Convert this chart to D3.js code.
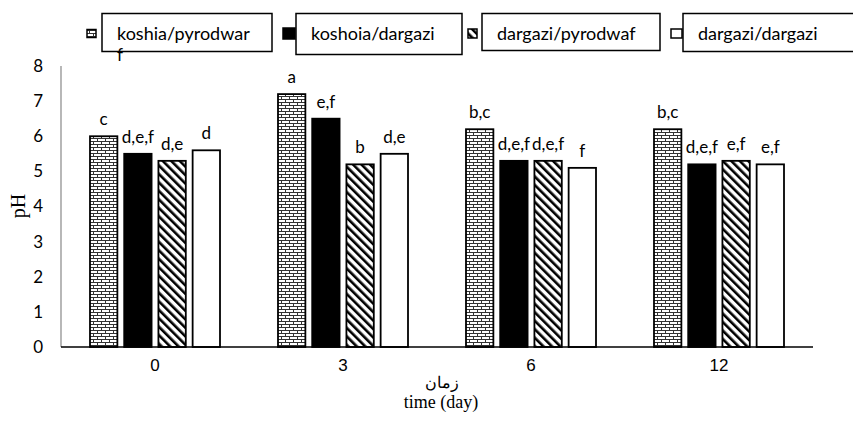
<!DOCTYPE html>
<html>
<head>
<meta charset="utf-8">
<script src="https://cdn.jsdelivr.net/npm/d3@7"></script>
<style>
  html, body { margin: 0; padding: 0; background: #fff; }
  svg { display: block; }
</style>
</head>
<body>
<svg id="chart" width="853" height="423"></svg>
<script>
// ---- data ----
const days = ["0", "3", "6", "12"];
const seriesNames = ["koshia/pyrodwar", "koshoia/dargazi", "dargazi/pyrodwaf", "dargazi/dargazi"];
const koshiaPyrodwar = [6.0, 7.2, 6.2, 6.2];
const koshoiaDargazi = [5.5, 6.5, 5.3, 5.2];
const dargaziPyrodwaf = [5.3, 5.2, 5.3, 5.3];
const dargaziDargazi = [5.6, 5.5, 5.1, 5.2];
const lettersKoshiaPyrodwar = ["c", "a", "b,c", "b,c"];
const lettersKoshoiaDargazi = ["d,e,f", "e,f", "d,e,f", "d,e,f"];
const lettersDargaziPyrodwaf = ["d,e", "b", "d,e,f", "e,f"];
const lettersDargaziDargazi = ["d", "d,e", "f", "e,f"];
const yTicks = [0, 1, 2, 3, 4, 5, 6, 7, 8];

const seriesValues = [koshiaPyrodwar, koshoiaDargazi, dargaziPyrodwaf, dargaziDargazi];
const seriesLetters = [lettersKoshiaPyrodwar, lettersKoshoiaDargazi, lettersDargaziPyrodwaf, lettersDargaziDargazi];

// ---- layout ----
const svg = d3.select("#chart");
const plotLeft = 61, plotRight = 813, plotTop = 66, plotBottom = 347;
const calibri = "Lato, 'Open Sans', sans-serif";

const defs = svg.append("defs");
// brick pattern
const brick = defs.append("pattern").attr("id", "brick")
  .attr("patternUnits", "userSpaceOnUse").attr("width", 8).attr("height", 6);
brick.append("rect").attr("width", 8).attr("height", 6).attr("fill", "#fff");
brick.append("path").attr("d", "M0,0.5H8M0,3.5H8M1.5,0.5V3.5M5.5,3.5V6")
  .attr("stroke", "#333").attr("stroke-width", 1).attr("fill", "none");
// diagonal pattern
const diag = defs.append("pattern").attr("id", "diag")
  .attr("patternUnits", "userSpaceOnUse").attr("width", 6).attr("height", 6)
  .attr("patternTransform", "rotate(-45)");
diag.append("rect").attr("width", 6).attr("height", 6).attr("fill", "#fff");
diag.append("rect").attr("x", 0).attr("y", 0).attr("width", 2.6).attr("height", 6).attr("fill", "#000");

const fills = ["url(#brick)", "#000", "url(#diag)", "#fff"];

const x0 = d3.scaleBand().domain(days).range([plotLeft, plotRight]).padding(0);
const groupWidth = 130;
const x1 = d3.scaleBand().domain(d3.range(seriesNames.length)).range([0, groupWidth]).paddingInner(0.2);
const y = d3.scaleLinear().domain([0, 8]).range([plotBottom, plotTop]);

// bars
seriesValues.forEach((vals, si) => {
  svg.append("g").selectAll("rect")
    .data(vals)
    .join("rect")
    .attr("x", (d, i) => x0(days[i]) + (x0.bandwidth() - groupWidth) / 2 + x1(si))
    .attr("y", d => y(d))
    .attr("width", x1.bandwidth())
    .attr("height", d => y(0) - y(d))
    .attr("fill", fills[si])
    .attr("stroke", "#000")
    .attr("stroke-width", 1.8);
});

// letters
seriesLetters.forEach((lets, si) => {
  svg.append("g").selectAll("text")
    .data(lets)
    .join("text")
    .attr("x", (d, i) => x0(days[i]) + (x0.bandwidth() - groupWidth) / 2 + x1(si) + x1.bandwidth() / 2)
    .attr("y", (d, i) => y(seriesValues[si][i]) - 11)
    .attr("text-anchor", "middle")
    .attr("font-family", calibri)
    .attr("font-size", 17)
    .attr("fill", "#000")
    .text(d => d);
});

// y axis
const yAxis = svg.append("g").attr("transform", `translate(${plotLeft},0)`)
  .call(d3.axisLeft(y).tickValues(yTicks).tickSize(0).tickPadding(18).tickFormat(d3.format("d")));
yAxis.select(".domain").attr("stroke", "#888").attr("stroke-width", 1.2)
  .attr("d", `M0,${plotTop}V${plotBottom}`);
yAxis.selectAll("text").attr("font-family", calibri).attr("font-size", 17).attr("fill", "#000");

// x axis
const xAxis = svg.append("g").attr("transform", `translate(0,${plotBottom})`)
  .call(d3.axisBottom(x0).tickSize(0).tickPadding(12));
xAxis.select(".domain").attr("stroke", "#000").attr("stroke-width", 1.5)
  .attr("d", `M${plotLeft},0H${plotRight}`);
xAxis.selectAll("text").attr("font-family", "'Liberation Sans', Arial, sans-serif")
  .attr("font-size", 17).attr("fill", "#000");

// axis titles
svg.append("text").attr("x", 442).attr("y", 388).attr("text-anchor", "middle")
  .attr("font-family", "'Liberation Serif', 'Times New Roman', serif").attr("font-size", 16)
  .text("زمان");
svg.append("text").attr("x", 441).attr("y", 408).attr("text-anchor", "middle")
  .attr("font-family", "'Liberation Serif', 'Times New Roman', serif").attr("font-size", 18)
  .text("time (day)");
svg.append("text").attr("transform", "translate(25,206) rotate(-90)").attr("text-anchor", "middle")
  .attr("font-family", "'Liberation Serif', 'Times New Roman', serif").attr("font-size", 20)
  .text("pH");

// legend
const legendSwatchX = [87, 283, 468, 671];
const legendBoxX = [102, 296, 482, 683];
const legendBoxW = [170, 166, 178, 180];
const legendBoxH = [38, 41, 37, 38];
const swatchSizes = [[9, 8], [12, 11], [9, 9], [11, 9]];
const lg = svg.append("g");
seriesNames.forEach((name, i) => {
  const sw = swatchSizes[i];
  lg.append("rect").attr("x", legendSwatchX[i]).attr("y", 33.5 - sw[1] / 2)
    .attr("width", sw[0]).attr("height", sw[1])
    .attr("fill", fills[i]).attr("stroke", "#000").attr("stroke-width", 1.5);
  lg.append("rect").attr("x", legendBoxX[i]).attr("y", 13.5)
    .attr("width", legendBoxW[i]).attr("height", legendBoxH[i])
    .attr("fill", "#fff").attr("stroke", "#000").attr("stroke-width", 1.5);
  lg.append("text").attr("x", legendBoxX[i] + 15).attr("y", 40)
    .attr("font-family", calibri).attr("font-size", 18).attr("fill", "#000")
    .text(name);
});
// stray letter under first legend box
svg.append("text").attr("x", 120).attr("y", 61).attr("text-anchor", "middle")
  .attr("font-family", calibri).attr("font-size", 17).text("f");
</script>
</body>
</html>
